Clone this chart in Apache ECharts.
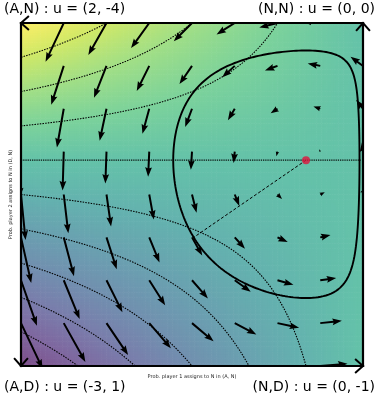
<!DOCTYPE html>
<html>
<head>
<meta charset="utf-8">
<script src="https://cdn.jsdelivr.net/npm/echarts@6/dist/echarts.min.js"></script>
<style>
  html, body { margin: 0; padding: 0; background: #fff; }
  #main { width: 377px; height: 396px; }
</style>
</head>
<body>
<div id="main"></div>
<script>
// ---- Game data: pure profiles (player 1 action, player 2 action) and payoffs ----
const profiles = ['(A,N)', '(N,N)', '(A,D)', '(N,D)'];
const payoffP1 = [2, 0, -3, 0];
const payoffP2 = [-4, 0, 1, -1];

// Quiver sample positions along each axis (probability of playing N)
const gridTicks = [0, 0.125, 0.25, 0.375, 0.5, 0.625, 0.75, 0.875, 1];
// Levels of player 1's expected payoff drawn as dotted contours
const contourLevels = [-2.5, -2, -1.5, -1, -0.5, 0, 0.5, 1, 1.5];
// Starting point of the highlighted replicator trajectory
const orbitStart = [0.505, 0.375];

const xLabel = 'Prob. player 1 assigns to N in (A, N)';
const yLabel = 'Prob. player 2 assigns to N in (D, N)';

// ---- Helpers derived from the payoff table ----
const P = {};
profiles.forEach((p, i) => { P[p] = [payoffP1[i], payoffP2[i]]; });
const AN = P['(A,N)'], NN = P['(N,N)'], AD = P['(A,D)'], ND = P['(N,D)'];

// x = P(player 1 plays N), y = P(player 2 plays N)
function u1(x, y) {
  return (1 - x) * (y * AN[0] + (1 - y) * AD[0]) + x * (y * NN[0] + (1 - y) * ND[0]);
}
function du1dx(y) {
  return -(y * AN[0] + (1 - y) * AD[0]) + (y * NN[0] + (1 - y) * ND[0]);
}
function du2dy(x) {
  return (1 - x) * (AN[1] - AD[1]) + x * (NN[1] - ND[1]);
}
// Mixed equilibrium: each player indifferent
const eqX = (AN[1] - AD[1]) / ((AN[1] - AD[1]) - (NN[1] - ND[1]));
const eqY = (AD[0] - ND[0]) / ((NN[0] - ND[0]) - (AN[0] - AD[0]));

const u1Min = Math.min(...payoffP1), u1Max = Math.max(...payoffP1);

// viridis colour map, blended over white
const viridis = [
  [68, 1, 84], [72, 36, 117], [65, 68, 135], [53, 95, 141], [42, 120, 142],
  [33, 145, 140], [34, 168, 132], [68, 191, 112], [122, 209, 81], [189, 223, 38], [253, 231, 37]
];
const FILL_ALPHA = 0.7;
function colorAt(t) {
  t = Math.max(0, Math.min(1, t));
  const f = t * (viridis.length - 1);
  const i = Math.min(viridis.length - 2, Math.floor(f));
  const r = f - i;
  const c = [0, 1, 2].map(k => viridis[i][k] * (1 - r) + viridis[i + 1][k] * r);
  const b = c.map(v => Math.round(v * FILL_ALPHA + 255 * (1 - FILL_ALPHA)));
  return 'rgb(' + b.join(',') + ')';
}

// ---- Background cells ----
const CELLS = 140;
const cellData = [];
for (let i = 0; i < CELLS; i++) {
  for (let j = 0; j < CELLS; j++) {
    const xc = (i + 0.5) / CELLS, yc = (j + 0.5) / CELLS;
    cellData.push([xc, yc, u1(xc, yc)]);
  }
}

// ---- Contour lines of player 1's payoff ----
function contourLine(c) {
  const pts = [];
  const n = 600;
  for (let k = 0; k <= n; k++) {
    const x = k / n;
    const den = (1 - x) * (AN[0] - AD[0]) + x * (NN[0] - ND[0]);
    if (Math.abs(den) < 1e-9) continue;
    const y = (c - (1 - x) * AD[0] - x * ND[0]) / den;
    if (y >= -0.3 && y <= 1.3) pts.push([x, y]);
  }
  return pts;
}

// ---- Quiver (gradient of each player's own payoff) ----
const quiverData = [];
gridTicks.forEach(x => gridTicks.forEach(y => quiverData.push([x, y, du1dx(y), du2dy(x)])));
const QS = 0.0266;         // data units per unit of gradient
const SHAFT = 2, HEADW = 6.8, HEADL = 9.5, HEADAX = 8.4;

function arrowItem(params, api) {
  const x = api.value(0), y = api.value(1), u = api.value(2), v = api.value(3);
  const p0 = api.coord([x, y]);
  const p1 = api.coord([x + u * QS, y + v * QS]);
  const dx = p1[0] - p0[0], dy = p1[1] - p0[1];
  const L = Math.hypot(dx, dy);
  if (L < 0.3) return null;
  const ex = dx / L, ey = dy / L, nx = -ey, ny = ex;
  const s = L < HEADL ? L / HEADL : 1;
  const w = SHAFT * s, hw = HEADW * s, hl = HEADL * s, ha = HEADAX * s;
  const at = (a, b) => [p0[0] + ex * a + nx * b, p0[1] + ey * a + ny * b];
  const pts = [
    at(0, w / 2), at(L - ha, w / 2), at(L - hl, hw / 2), at(L, 0),
    at(L - hl, -hw / 2), at(L - ha, -w / 2), at(0, -w / 2)
  ];
  return { type: 'polygon', shape: { points: pts }, style: { fill: '#000' } };
}

// ---- Replicator trajectory through orbitStart ----
function field(p) {
  const [x, y] = p;
  return [x * (1 - x) * du1dx(y), y * (1 - y) * du2dy(x)];
}
function unitField(p) {
  const f = field(p);
  const m = Math.hypot(f[0], f[1]) || 1;
  return [f[0] / m, f[1] / m];
}
const orbit = [orbitStart.slice()];
(function integrate() {
  let p = orbitStart.slice();
  let prev = Math.atan2(p[1] - eqY, p[0] - eqX), swept = 0;
  const ds = 0.002;
  for (let k = 0; k < 20000; k++) {
    const k1 = unitField(p);
    const k2 = unitField([p[0] + ds / 2 * k1[0], p[1] + ds / 2 * k1[1]]);
    const k3 = unitField([p[0] + ds / 2 * k2[0], p[1] + ds / 2 * k2[1]]);
    const k4 = unitField([p[0] + ds * k3[0], p[1] + ds * k3[1]]);
    p = [p[0] + ds / 6 * (k1[0] + 2 * k2[0] + 2 * k3[0] + k4[0]),
         p[1] + ds / 6 * (k1[1] + 2 * k2[1] + 2 * k3[1] + k4[1])];
    orbit.push(p.slice());
    const a = Math.atan2(p[1] - eqY, p[0] - eqX);
    let d = a - prev;
    if (d > Math.PI) d -= 2 * Math.PI;
    if (d < -Math.PI) d += 2 * Math.PI;
    swept += d; prev = a;
    if (Math.abs(swept) >= 2 * Math.PI) break;
  }
  orbit.push(orbitStart.slice());
})();

// ---- Chart ----
const chart = echarts.init(document.getElementById('main'), null, { renderer: 'canvas' });

const series = [];
series.push({
  type: 'custom', name: 'payoff', silent: true, z: 1,
  data: cellData,
  renderItem(params, api) {
    const xc = api.value(0), yc = api.value(1), h = 0.5 / CELLS;
    const a = api.coord([xc - h, yc + h]);
    const b = api.coord([xc + h, yc - h]);
    return {
      type: 'rect',
      shape: { x: a[0] - 0.3, y: a[1] - 0.3, width: b[0] - a[0] + 0.6, height: b[1] - a[1] + 0.6 },
      style: { fill: colorAt((api.value(2) - u1Min) / (u1Max - u1Min)) }
    };
  }
});
contourLevels.forEach(c => {
  series.push({
    type: 'line', silent: true, z: 2, clip: true, showSymbol: false, symbol: 'none',
    data: contourLine(c),
    lineStyle: c === 0
      ? { color: '#000', width: 1.3, type: [1.3, 0.9], opacity: 0.9 }
      : { color: '#000', width: 1.1, type: [1.5, 1.2], opacity: 1 }
  });
});
series.push({
  type: 'custom', name: 'gradient', silent: true, z: 3, clip: true,
  data: quiverData, renderItem: arrowItem
});
series.push({
  type: 'line', silent: true, z: 4, showSymbol: false, symbol: 'none', clip: true,
  data: orbit, lineStyle: { color: '#000', width: 1.9 }
});
series.push({
  type: 'line', silent: true, z: 4, showSymbol: false, symbol: 'none',
  data: [[eqX, eqY], orbitStart], lineStyle: { color: '#000', width: 1, type: [3, 2] }
});
series.push({
  type: 'scatter', silent: true, z: 5, data: [[eqX, eqY]],
  symbolSize: 8, itemStyle: { color: '#e0143c' }
});
// Border: edge flows drawn as arrows around the square
series.push({
  type: 'custom', silent: true, z: 6, clip: false,
  data: [[0, 0]],
  renderItem(params, api) {
    const c00 = api.coord([0, 0]), c10 = api.coord([1, 0]), c11 = api.coord([1, 1]), c01 = api.coord([0, 1]);
    const edges = [[c11, c01], [c01, c00], [c00, c10], [c10, c11]];
    const children = [];
    const wing = 10.5, spread = 0.72;
    edges.forEach(([s, t]) => {
      children.push({ type: 'line', shape: { x1: s[0], y1: s[1], x2: t[0], y2: t[1] },
        style: { stroke: '#000', lineWidth: 2.2, lineCap: 'square' } });
      const ang = Math.atan2(s[1] - t[1], s[0] - t[0]);
      const pA = [t[0] + wing * Math.cos(ang + spread), t[1] + wing * Math.sin(ang + spread)];
      const pB = [t[0] + wing * Math.cos(ang - spread), t[1] + wing * Math.sin(ang - spread)];
      children.push({ type: 'polyline', shape: { points: [pA, t, pB] },
        style: { stroke: '#000', lineWidth: 2, fill: null } });
    });
    return { type: 'group', children };
  }
});

const labelFont = '14px "DejaVu Sans"';
function cornerText(i) {
  return profiles[i] + ' : u = (' + payoffP1[i] + ', ' + payoffP2[i] + ')';
}

chart.setOption({
  animation: false,
  backgroundColor: '#fff',
  grid: { left: 17, top: 23, width: 346, height: 343 },
  xAxis: {
    type: 'value', min: 0, max: 1,
    name: xLabel, nameLocation: 'middle', nameGap: 8,
    nameTextStyle: { fontSize: 5, color: '#222', fontFamily: 'DejaVu Sans' },
    axisLine: { show: false }, axisTick: { show: false }, axisLabel: { show: false }, splitLine: { show: false }
  },
  yAxis: {
    type: 'value', min: 0, max: 1,
    name: yLabel, nameLocation: 'middle', nameGap: 8,
    nameTextStyle: { fontSize: 5, color: '#222', fontFamily: 'DejaVu Sans' },
    axisLine: { show: false }, axisTick: { show: false }, axisLabel: { show: false }, splitLine: { show: false }
  },
  series,
  graphic: [
    { type: 'text', left: 4, top: 2, style: { text: cornerText(0), font: labelFont, fill: '#000' } },
    { type: 'text', right: 2, top: 2, style: { text: cornerText(1), font: labelFont, fill: '#000' } },
    { type: 'text', left: 4, top: 380, style: { text: cornerText(2), font: labelFont, fill: '#000' } },
    { type: 'text', right: 2, top: 380, style: { text: cornerText(3), font: labelFont, fill: '#000' } }
  ]
});
</script>
</body>
</html>
